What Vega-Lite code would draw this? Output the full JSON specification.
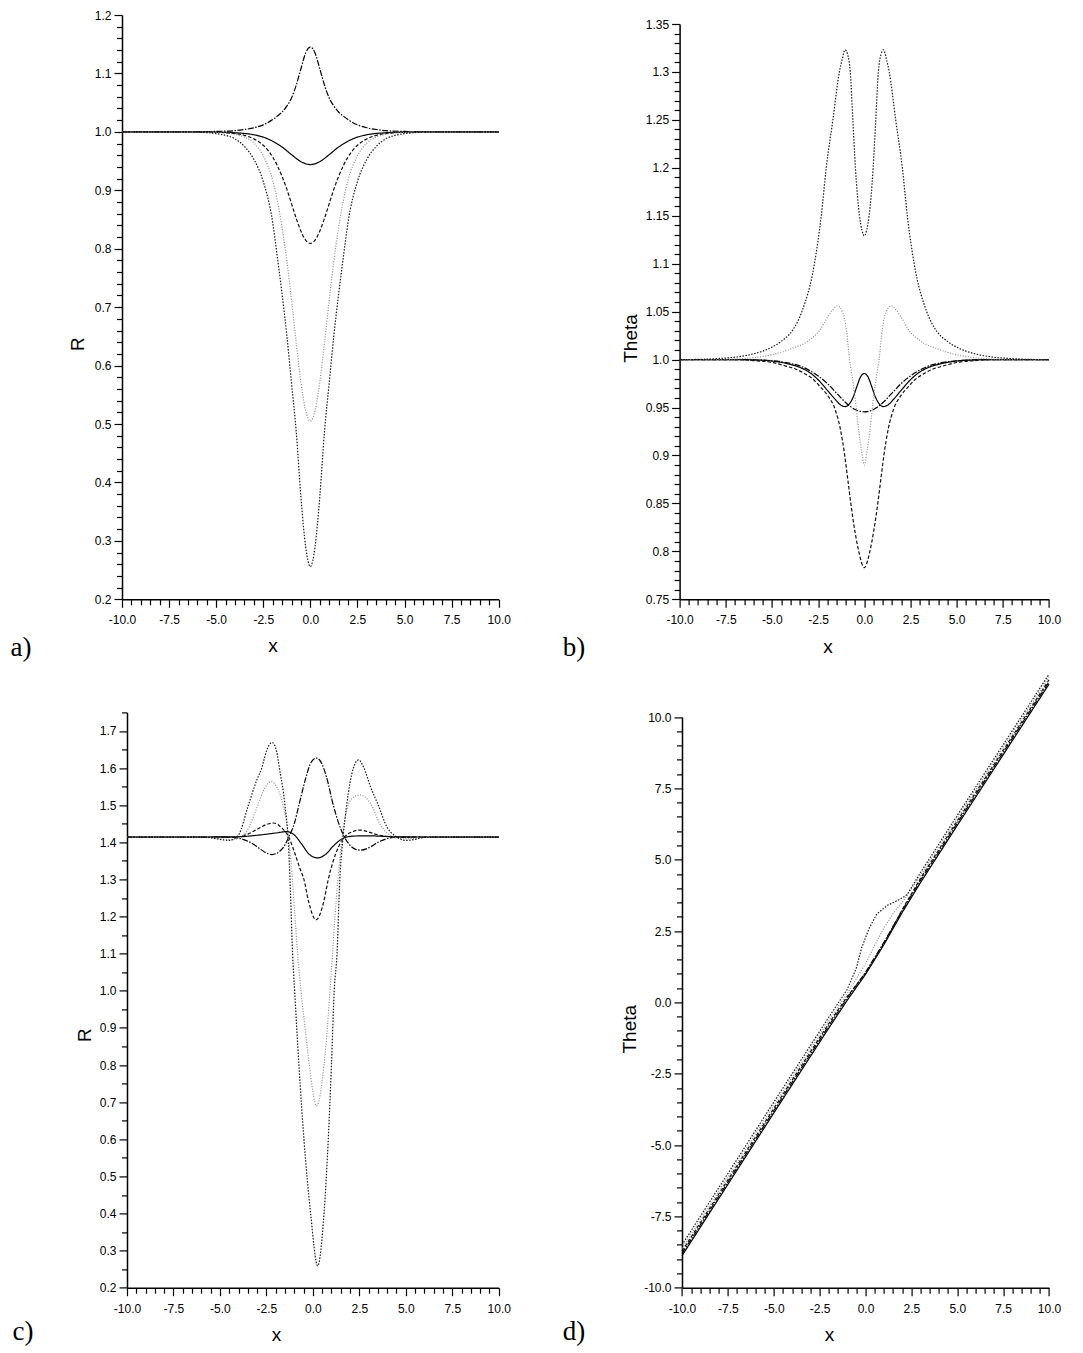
{
  "$schema": "https://vega.github.io/schema/vega-lite/v6.json",
  "background": "white",
  "padding": {"left": 10, "top": 9, "right": 5, "bottom": 5},
  "columns": 2,
  "bounds": "flush",
  "spacing": {"row": 112.4, "column": 180.6},
  "config": {
    "view": {"stroke": null},
    "axis": {
      "grid": false,
      "labelFont": "Liberation Sans",
      "labelFontSize": 12,
      "labelColor": "#000000",
      "labelFlush": false,
      "labelOverlap": false,
      "titleFont": "Liberation Sans",
      "titleFontSize": 19,
      "titleFontWeight": "normal",
      "titleColor": "#000000",
      "domainColor": "#000000",
      "domainWidth": 1.5,
      "tickColor": "#000000",
      "tickWidth": 1.2
    }
  },
  "datasets": {
    "a": [
      {"x": -10, "v": 1, "s": "s1"}, {"x": -7, "v": 1, "s": "s1"}, {"x": -6, "v": 0.9999, "s": "s1"}, {"x": -5, "v": 0.9996, "s": "s1"}, {"x": -4, "v": 0.9985, "s": "s1"}, {"x": -3, "v": 0.995, "s": "s1"}, {"x": -2.5, "v": 0.991, "s": "s1"}, {"x": -2, "v": 0.984, "s": "s1"}, {"x": -1.5, "v": 0.974, "s": "s1"}, {"x": -1, "v": 0.961, "s": "s1"}, {"x": -0.5, "v": 0.949, "s": "s1"}, {"x": 0, "v": 0.944, "s": "s1"},
      {"x": 0.5, "v": 0.949, "s": "s1"}, {"x": 1, "v": 0.961, "s": "s1"}, {"x": 1.5, "v": 0.974, "s": "s1"}, {"x": 2, "v": 0.984, "s": "s1"}, {"x": 2.5, "v": 0.991, "s": "s1"}, {"x": 3, "v": 0.995, "s": "s1"}, {"x": 4, "v": 0.9985, "s": "s1"}, {"x": 5, "v": 0.9996, "s": "s1"}, {"x": 6, "v": 0.9999, "s": "s1"}, {"x": 7, "v": 1, "s": "s1"}, {"x": 10, "v": 1, "s": "s1"},

      {"x": -10, "v": 1, "s": "s2"}, {"x": -8, "v": 1, "s": "s2"}, {"x": -6, "v": 1.0003, "s": "s2"}, {"x": -5, "v": 1.0008, "s": "s2"}, {"x": -4, "v": 1.002, "s": "s2"}, {"x": -3.5, "v": 1.004, "s": "s2"}, {"x": -3, "v": 1.007, "s": "s2"}, {"x": -2.5, "v": 1.012, "s": "s2"}, {"x": -2, "v": 1.021, "s": "s2"}, {"x": -1.75, "v": 1.027, "s": "s2"}, {"x": -1.5, "v": 1.034, "s": "s2"}, {"x": -1.25, "v": 1.044, "s": "s2"}, {"x": -1, "v": 1.058, "s": "s2"}, {"x": -0.75, "v": 1.08, "s": "s2"}, {"x": -0.5, "v": 1.108, "s": "s2"}, {"x": -0.25, "v": 1.135, "s": "s2"}, {"x": 0, "v": 1.145, "s": "s2"},
      {"x": 0.25, "v": 1.135, "s": "s2"}, {"x": 0.5, "v": 1.108, "s": "s2"}, {"x": 0.75, "v": 1.08, "s": "s2"}, {"x": 1, "v": 1.058, "s": "s2"}, {"x": 1.25, "v": 1.044, "s": "s2"}, {"x": 1.5, "v": 1.034, "s": "s2"}, {"x": 1.75, "v": 1.027, "s": "s2"}, {"x": 2, "v": 1.021, "s": "s2"}, {"x": 2.5, "v": 1.012, "s": "s2"}, {"x": 3, "v": 1.007, "s": "s2"}, {"x": 3.5, "v": 1.004, "s": "s2"}, {"x": 4, "v": 1.002, "s": "s2"}, {"x": 5, "v": 1.0008, "s": "s2"}, {"x": 6, "v": 1.0003, "s": "s2"}, {"x": 8, "v": 1, "s": "s2"}, {"x": 10, "v": 1, "s": "s2"},

      {"x": -10, "v": 1, "s": "s3"}, {"x": -7, "v": 1, "s": "s3"}, {"x": -6, "v": 0.9998, "s": "s3"}, {"x": -5, "v": 0.9992, "s": "s3"}, {"x": -4, "v": 0.997, "s": "s3"}, {"x": -3.5, "v": 0.994, "s": "s3"}, {"x": -3, "v": 0.988, "s": "s3"}, {"x": -2.5, "v": 0.977, "s": "s3"}, {"x": -2, "v": 0.957, "s": "s3"}, {"x": -1.75, "v": 0.942, "s": "s3"}, {"x": -1.5, "v": 0.9235, "s": "s3"}, {"x": -1.25, "v": 0.902, "s": "s3"}, {"x": -1, "v": 0.877, "s": "s3"}, {"x": -0.75, "v": 0.852, "s": "s3"}, {"x": -0.5, "v": 0.83, "s": "s3"}, {"x": -0.25, "v": 0.8146, "s": "s3"}, {"x": 0, "v": 0.809, "s": "s3"},
      {"x": 0.25, "v": 0.8146, "s": "s3"}, {"x": 0.5, "v": 0.83, "s": "s3"}, {"x": 0.75, "v": 0.852, "s": "s3"}, {"x": 1, "v": 0.877, "s": "s3"}, {"x": 1.25, "v": 0.902, "s": "s3"}, {"x": 1.5, "v": 0.9235, "s": "s3"}, {"x": 1.75, "v": 0.942, "s": "s3"}, {"x": 2, "v": 0.957, "s": "s3"}, {"x": 2.5, "v": 0.977, "s": "s3"}, {"x": 3, "v": 0.988, "s": "s3"}, {"x": 3.5, "v": 0.994, "s": "s3"}, {"x": 4, "v": 0.997, "s": "s3"}, {"x": 5, "v": 0.9992, "s": "s3"}, {"x": 6, "v": 0.9998, "s": "s3"}, {"x": 7, "v": 1, "s": "s3"}, {"x": 10, "v": 1, "s": "s3"},

      {"x": -10, "v": 1, "s": "s4"}, {"x": -7, "v": 1, "s": "s4"}, {"x": -6, "v": 0.9998, "s": "s4"}, {"x": -5, "v": 0.999, "s": "s4"}, {"x": -4, "v": 0.9958, "s": "s4"}, {"x": -3.5, "v": 0.991, "s": "s4"}, {"x": -3, "v": 0.981, "s": "s4"}, {"x": -2.5, "v": 0.959, "s": "s4"}, {"x": -2, "v": 0.917, "s": "s4"}, {"x": -1.75, "v": 0.882, "s": "s4"}, {"x": -1.5, "v": 0.836, "s": "s4"}, {"x": -1.25, "v": 0.78, "s": "s4"}, {"x": -1, "v": 0.712, "s": "s4"}, {"x": -0.75, "v": 0.639, "s": "s4"}, {"x": -0.5, "v": 0.5715, "s": "s4"}, {"x": -0.25, "v": 0.523, "s": "s4"}, {"x": 0, "v": 0.505, "s": "s4"},
      {"x": 0.25, "v": 0.523, "s": "s4"}, {"x": 0.5, "v": 0.5715, "s": "s4"}, {"x": 0.75, "v": 0.639, "s": "s4"}, {"x": 1, "v": 0.712, "s": "s4"}, {"x": 1.25, "v": 0.78, "s": "s4"}, {"x": 1.5, "v": 0.836, "s": "s4"}, {"x": 1.75, "v": 0.882, "s": "s4"}, {"x": 2, "v": 0.917, "s": "s4"}, {"x": 2.5, "v": 0.959, "s": "s4"}, {"x": 3, "v": 0.981, "s": "s4"}, {"x": 3.5, "v": 0.991, "s": "s4"}, {"x": 4, "v": 0.9958, "s": "s4"}, {"x": 5, "v": 0.999, "s": "s4"}, {"x": 6, "v": 0.9998, "s": "s4"}, {"x": 7, "v": 1, "s": "s4"}, {"x": 10, "v": 1, "s": "s4"},

      {"x": -10, "v": 1, "s": "s5"}, {"x": -7, "v": 1, "s": "s5"}, {"x": -6, "v": 0.9995, "s": "s5"}, {"x": -5, "v": 0.997, "s": "s5"}, {"x": -4.5, "v": 0.994, "s": "s5"}, {"x": -4, "v": 0.988, "s": "s5"}, {"x": -3.5, "v": 0.975, "s": "s5"}, {"x": -3, "v": 0.953, "s": "s5"}, {"x": -2.5, "v": 0.915, "s": "s5"}, {"x": -2, "v": 0.845, "s": "s5"}, {"x": -1.75, "v": 0.785, "s": "s5"}, {"x": -1.5, "v": 0.722, "s": "s5"}, {"x": -1.25, "v": 0.652, "s": "s5"}, {"x": -1, "v": 0.57, "s": "s5"}, {"x": -0.75, "v": 0.487, "s": "s5"}, {"x": -0.5, "v": 0.375, "s": "s5"}, {"x": -0.25, "v": 0.29, "s": "s5"}, {"x": 0, "v": 0.256, "s": "s5"},
      {"x": 0.25, "v": 0.29, "s": "s5"}, {"x": 0.5, "v": 0.375, "s": "s5"}, {"x": 0.75, "v": 0.487, "s": "s5"}, {"x": 1, "v": 0.57, "s": "s5"}, {"x": 1.25, "v": 0.652, "s": "s5"}, {"x": 1.5, "v": 0.722, "s": "s5"}, {"x": 1.75, "v": 0.785, "s": "s5"}, {"x": 2, "v": 0.845, "s": "s5"}, {"x": 2.5, "v": 0.915, "s": "s5"}, {"x": 3, "v": 0.953, "s": "s5"}, {"x": 3.5, "v": 0.975, "s": "s5"}, {"x": 4, "v": 0.988, "s": "s5"}, {"x": 4.5, "v": 0.994, "s": "s5"}, {"x": 5, "v": 0.997, "s": "s5"}, {"x": 6, "v": 0.9995, "s": "s5"}, {"x": 7, "v": 1, "s": "s5"}, {"x": 10, "v": 1, "s": "s5"}
    ],
    "b": [
      {"x": -10, "v": 1, "s": "s1"}, {"x": -7, "v": 1, "s": "s1"}, {"x": -6, "v": 0.9997, "s": "s1"}, {"x": -5, "v": 0.9985, "s": "s1"}, {"x": -4, "v": 0.995, "s": "s1"}, {"x": -3.5, "v": 0.992, "s": "s1"}, {"x": -3, "v": 0.987, "s": "s1"}, {"x": -2.5, "v": 0.979, "s": "s1"}, {"x": -2, "v": 0.968, "s": "s1"}, {"x": -1.6, "v": 0.959, "s": "s1"}, {"x": -1.3, "v": 0.953, "s": "s1"}, {"x": -1.03, "v": 0.951, "s": "s1"}, {"x": -0.8, "v": 0.954, "s": "s1"}, {"x": -0.6, "v": 0.961, "s": "s1"}, {"x": -0.4, "v": 0.972, "s": "s1"}, {"x": -0.2, "v": 0.982, "s": "s1"}, {"x": 0, "v": 0.9855, "s": "s1"},
      {"x": 0.2, "v": 0.982, "s": "s1"}, {"x": 0.4, "v": 0.972, "s": "s1"}, {"x": 0.6, "v": 0.961, "s": "s1"}, {"x": 0.8, "v": 0.954, "s": "s1"}, {"x": 1.03, "v": 0.951, "s": "s1"}, {"x": 1.3, "v": 0.953, "s": "s1"}, {"x": 1.6, "v": 0.959, "s": "s1"}, {"x": 2, "v": 0.968, "s": "s1"}, {"x": 2.5, "v": 0.979, "s": "s1"}, {"x": 3, "v": 0.987, "s": "s1"}, {"x": 3.5, "v": 0.992, "s": "s1"}, {"x": 4, "v": 0.995, "s": "s1"}, {"x": 5, "v": 0.9985, "s": "s1"}, {"x": 6, "v": 0.9997, "s": "s1"}, {"x": 7, "v": 1, "s": "s1"}, {"x": 10, "v": 1, "s": "s1"},

      {"x": -10, "v": 1, "s": "s2"}, {"x": -7, "v": 1, "s": "s2"}, {"x": -6, "v": 0.9997, "s": "s2"}, {"x": -5, "v": 0.9988, "s": "s2"}, {"x": -4, "v": 0.996, "s": "s2"}, {"x": -3.5, "v": 0.9935, "s": "s2"}, {"x": -3, "v": 0.989, "s": "s2"}, {"x": -2.5, "v": 0.983, "s": "s2"}, {"x": -2, "v": 0.975, "s": "s2"}, {"x": -1.5, "v": 0.965, "s": "s2"}, {"x": -1, "v": 0.955, "s": "s2"}, {"x": -0.5, "v": 0.948, "s": "s2"}, {"x": 0, "v": 0.9455, "s": "s2"},
      {"x": 0.5, "v": 0.948, "s": "s2"}, {"x": 1, "v": 0.955, "s": "s2"}, {"x": 1.5, "v": 0.965, "s": "s2"}, {"x": 2, "v": 0.975, "s": "s2"}, {"x": 2.5, "v": 0.983, "s": "s2"}, {"x": 3, "v": 0.989, "s": "s2"}, {"x": 3.5, "v": 0.9935, "s": "s2"}, {"x": 4, "v": 0.996, "s": "s2"}, {"x": 5, "v": 0.9988, "s": "s2"}, {"x": 6, "v": 0.9997, "s": "s2"}, {"x": 7, "v": 1, "s": "s2"}, {"x": 10, "v": 1, "s": "s2"},

      {"x": -10, "v": 1, "s": "s3"}, {"x": -7, "v": 1, "s": "s3"}, {"x": -6, "v": 0.999, "s": "s3"}, {"x": -5, "v": 0.997, "s": "s3"}, {"x": -4.2, "v": 0.993, "s": "s3"}, {"x": -3.7, "v": 0.99, "s": "s3"}, {"x": -3.2, "v": 0.985, "s": "s3"}, {"x": -2.74, "v": 0.979, "s": "s3"}, {"x": -2.4, "v": 0.972, "s": "s3"}, {"x": -2, "v": 0.963, "s": "s3"}, {"x": -1.58, "v": 0.948, "s": "s3"}, {"x": -1.3, "v": 0.928, "s": "s3"}, {"x": -1.06, "v": 0.9, "s": "s3"}, {"x": -0.9, "v": 0.876, "s": "s3"}, {"x": -0.73, "v": 0.85, "s": "s3"}, {"x": -0.5, "v": 0.82, "s": "s3"}, {"x": -0.3, "v": 0.8, "s": "s3"}, {"x": 0, "v": 0.783, "s": "s3"},
      {"x": 0.3, "v": 0.8, "s": "s3"}, {"x": 0.5, "v": 0.82, "s": "s3"}, {"x": 0.73, "v": 0.85, "s": "s3"}, {"x": 0.9, "v": 0.876, "s": "s3"}, {"x": 1.06, "v": 0.9, "s": "s3"}, {"x": 1.3, "v": 0.928, "s": "s3"}, {"x": 1.58, "v": 0.948, "s": "s3"}, {"x": 2, "v": 0.963, "s": "s3"}, {"x": 2.4, "v": 0.972, "s": "s3"}, {"x": 2.74, "v": 0.979, "s": "s3"}, {"x": 3.2, "v": 0.985, "s": "s3"}, {"x": 3.7, "v": 0.99, "s": "s3"}, {"x": 4.2, "v": 0.993, "s": "s3"}, {"x": 5, "v": 0.997, "s": "s3"}, {"x": 6, "v": 0.999, "s": "s3"}, {"x": 7, "v": 1, "s": "s3"}, {"x": 10, "v": 1, "s": "s3"},

      {"x": -10, "v": 1, "s": "s4"}, {"x": -8, "v": 1, "s": "s4"}, {"x": -7, "v": 1.0005, "s": "s4"}, {"x": -6, "v": 1.002, "s": "s4"}, {"x": -5, "v": 1.005, "s": "s4"}, {"x": -4, "v": 1.011, "s": "s4"}, {"x": -3, "v": 1.02, "s": "s4"}, {"x": -2.4, "v": 1.031, "s": "s4"}, {"x": -2, "v": 1.044, "s": "s4"}, {"x": -1.75, "v": 1.051, "s": "s4"}, {"x": -1.45, "v": 1.056, "s": "s4"}, {"x": -1.15, "v": 1.048, "s": "s4"}, {"x": -0.97, "v": 1.031, "s": "s4"}, {"x": -0.8, "v": 1.0, "s": "s4"}, {"x": -0.6, "v": 0.975, "s": "s4"}, {"x": -0.45, "v": 0.952, "s": "s4"}, {"x": -0.3, "v": 0.925, "s": "s4"}, {"x": -0.15, "v": 0.905, "s": "s4"}, {"x": 0, "v": 0.89, "s": "s4"},
      {"x": 0.15, "v": 0.905, "s": "s4"}, {"x": 0.3, "v": 0.925, "s": "s4"}, {"x": 0.45, "v": 0.952, "s": "s4"}, {"x": 0.6, "v": 0.975, "s": "s4"}, {"x": 0.8, "v": 1.0, "s": "s4"}, {"x": 0.97, "v": 1.031, "s": "s4"}, {"x": 1.15, "v": 1.048, "s": "s4"}, {"x": 1.45, "v": 1.056, "s": "s4"}, {"x": 1.75, "v": 1.051, "s": "s4"}, {"x": 2, "v": 1.044, "s": "s4"}, {"x": 2.4, "v": 1.031, "s": "s4"}, {"x": 3, "v": 1.02, "s": "s4"}, {"x": 4, "v": 1.011, "s": "s4"}, {"x": 5, "v": 1.005, "s": "s4"}, {"x": 6, "v": 1.002, "s": "s4"}, {"x": 7, "v": 1.0005, "s": "s4"}, {"x": 8, "v": 1, "s": "s4"}, {"x": 10, "v": 1, "s": "s4"},

      {"x": -10, "v": 1, "s": "s5"}, {"x": -9, "v": 1.0002, "s": "s5"}, {"x": -8, "v": 1.001, "s": "s5"}, {"x": -7, "v": 1.0025, "s": "s5"}, {"x": -6, "v": 1.006, "s": "s5"}, {"x": -5.1, "v": 1.012, "s": "s5"}, {"x": -4.5, "v": 1.019, "s": "s5"}, {"x": -3.87, "v": 1.031, "s": "s5"}, {"x": -3.38, "v": 1.05, "s": "s5"}, {"x": -2.7, "v": 1.1, "s": "s5"}, {"x": -2.33, "v": 1.15, "s": "s5"}, {"x": -2.06, "v": 1.2, "s": "s5"}, {"x": -1.7, "v": 1.25, "s": "s5"}, {"x": -1.35, "v": 1.3, "s": "s5"}, {"x": -1.2, "v": 1.313, "s": "s5"}, {"x": -1.04, "v": 1.323, "s": "s5"}, {"x": -0.9, "v": 1.318, "s": "s5"}, {"x": -0.76, "v": 1.3, "s": "s5"}, {"x": -0.62, "v": 1.25, "s": "s5"}, {"x": -0.48, "v": 1.2, "s": "s5"}, {"x": -0.26, "v": 1.15, "s": "s5"}, {"x": -0.13, "v": 1.135, "s": "s5"}, {"x": 0, "v": 1.129, "s": "s5"},
      {"x": 0.13, "v": 1.135, "s": "s5"}, {"x": 0.26, "v": 1.15, "s": "s5"}, {"x": 0.48, "v": 1.2, "s": "s5"}, {"x": 0.62, "v": 1.25, "s": "s5"}, {"x": 0.76, "v": 1.3, "s": "s5"}, {"x": 0.9, "v": 1.318, "s": "s5"}, {"x": 1.04, "v": 1.323, "s": "s5"}, {"x": 1.2, "v": 1.313, "s": "s5"}, {"x": 1.35, "v": 1.3, "s": "s5"}, {"x": 1.7, "v": 1.25, "s": "s5"}, {"x": 2.06, "v": 1.2, "s": "s5"}, {"x": 2.33, "v": 1.15, "s": "s5"}, {"x": 2.7, "v": 1.1, "s": "s5"}, {"x": 3.38, "v": 1.05, "s": "s5"}, {"x": 3.87, "v": 1.031, "s": "s5"}, {"x": 4.5, "v": 1.019, "s": "s5"}, {"x": 5.1, "v": 1.012, "s": "s5"}, {"x": 6, "v": 1.006, "s": "s5"}, {"x": 7, "v": 1.0025, "s": "s5"}, {"x": 8, "v": 1.001, "s": "s5"}, {"x": 9, "v": 1.0002, "s": "s5"}, {"x": 10, "v": 1, "s": "s5"}
    ],
    "c": [
      {"x": -10, "v": 1.4142, "s": "s1"}, {"x": -6, "v": 1.4142, "s": "s1"}, {"x": -5, "v": 1.4145, "s": "s1"}, {"x": -4, "v": 1.415, "s": "s1"}, {"x": -3, "v": 1.419, "s": "s1"}, {"x": -2, "v": 1.425, "s": "s1"}, {"x": -1.4, "v": 1.4288, "s": "s1"}, {"x": -1, "v": 1.42, "s": "s1"}, {"x": -0.6, "v": 1.395, "s": "s1"}, {"x": -0.2, "v": 1.368, "s": "s1"}, {"x": 0.25, "v": 1.358, "s": "s1"}, {"x": 0.7, "v": 1.368, "s": "s1"}, {"x": 1.1, "v": 1.39, "s": "s1"}, {"x": 1.5, "v": 1.407, "s": "s1"}, {"x": 1.8, "v": 1.414, "s": "s1"}, {"x": 2.3, "v": 1.417, "s": "s1"}, {"x": 3, "v": 1.4175, "s": "s1"}, {"x": 4, "v": 1.4155, "s": "s1"}, {"x": 5, "v": 1.4145, "s": "s1"}, {"x": 6, "v": 1.4142, "s": "s1"}, {"x": 10, "v": 1.4142, "s": "s1"},

      {"x": -10, "v": 1.4142, "s": "s2"}, {"x": -5, "v": 1.4142, "s": "s2"}, {"x": -4.5, "v": 1.414, "s": "s2"}, {"x": -4, "v": 1.411, "s": "s2"}, {"x": -3.5, "v": 1.403, "s": "s2"}, {"x": -3, "v": 1.388, "s": "s2"}, {"x": -2.6, "v": 1.374, "s": "s2"}, {"x": -2.2, "v": 1.367, "s": "s2"}, {"x": -1.8, "v": 1.375, "s": "s2"}, {"x": -1.5, "v": 1.393, "s": "s2"}, {"x": -1.3, "v": 1.414, "s": "s2"}, {"x": -1, "v": 1.45, "s": "s2"}, {"x": -0.75, "v": 1.5, "s": "s2"}, {"x": -0.37, "v": 1.575, "s": "s2"}, {"x": -0.1, "v": 1.615, "s": "s2"}, {"x": 0.2, "v": 1.627, "s": "s2"}, {"x": 0.5, "v": 1.61, "s": "s2"}, {"x": 0.74, "v": 1.575, "s": "s2"}, {"x": 1.1, "v": 1.5, "s": "s2"}, {"x": 1.4, "v": 1.45, "s": "s2"}, {"x": 1.7, "v": 1.414, "s": "s2"}, {"x": 2, "v": 1.392, "s": "s2"}, {"x": 2.3, "v": 1.381, "s": "s2"}, {"x": 2.6, "v": 1.379, "s": "s2"}, {"x": 3, "v": 1.385, "s": "s2"}, {"x": 3.5, "v": 1.4, "s": "s2"}, {"x": 4, "v": 1.41, "s": "s2"}, {"x": 4.5, "v": 1.4142, "s": "s2"}, {"x": 10, "v": 1.4142, "s": "s2"},

      {"x": -10, "v": 1.4142, "s": "s3"}, {"x": -5, "v": 1.4142, "s": "s3"}, {"x": -4.5, "v": 1.413, "s": "s3"}, {"x": -4, "v": 1.415, "s": "s3"}, {"x": -3.5, "v": 1.422, "s": "s3"}, {"x": -3, "v": 1.435, "s": "s3"}, {"x": -2.5, "v": 1.448, "s": "s3"}, {"x": -2.1, "v": 1.452, "s": "s3"}, {"x": -1.7, "v": 1.44, "s": "s3"}, {"x": -1.3, "v": 1.414, "s": "s3"}, {"x": -1, "v": 1.375, "s": "s3"}, {"x": -0.7, "v": 1.33, "s": "s3"}, {"x": -0.48, "v": 1.3, "s": "s3"}, {"x": -0.24, "v": 1.243, "s": "s3"}, {"x": 0.17, "v": 1.191, "s": "s3"}, {"x": 0.6, "v": 1.243, "s": "s3"}, {"x": 0.83, "v": 1.3, "s": "s3"}, {"x": 1.1, "v": 1.35, "s": "s3"}, {"x": 1.4, "v": 1.39, "s": "s3"}, {"x": 1.7, "v": 1.414, "s": "s3"}, {"x": 2.1, "v": 1.428, "s": "s3"}, {"x": 2.55, "v": 1.433, "s": "s3"}, {"x": 3, "v": 1.428, "s": "s3"}, {"x": 3.5, "v": 1.42, "s": "s3"}, {"x": 4, "v": 1.416, "s": "s3"}, {"x": 4.5, "v": 1.414, "s": "s3"}, {"x": 5, "v": 1.4135, "s": "s3"}, {"x": 6, "v": 1.4142, "s": "s3"}, {"x": 10, "v": 1.4142, "s": "s3"},

      {"x": -10, "v": 1.4142, "s": "s4"}, {"x": -6, "v": 1.4142, "s": "s4"}, {"x": -5.5, "v": 1.413, "s": "s4"}, {"x": -5, "v": 1.41, "s": "s4"}, {"x": -4.5, "v": 1.407, "s": "s4"}, {"x": -4, "v": 1.41, "s": "s4"}, {"x": -3.5, "v": 1.435, "s": "s4"}, {"x": -3, "v": 1.495, "s": "s4"}, {"x": -2.6, "v": 1.545, "s": "s4"}, {"x": -2.25, "v": 1.5635, "s": "s4"}, {"x": -1.9, "v": 1.545, "s": "s4"}, {"x": -1.6, "v": 1.5, "s": "s4"}, {"x": -1.28, "v": 1.4, "s": "s4"}, {"x": -1.1, "v": 1.3, "s": "s4"}, {"x": -0.96, "v": 1.2, "s": "s4"}, {"x": -0.82, "v": 1.1, "s": "s4"}, {"x": -0.64, "v": 1.0, "s": "s4"}, {"x": -0.42, "v": 0.9, "s": "s4"}, {"x": -0.19, "v": 0.8, "s": "s4"}, {"x": 0.2, "v": 0.69, "s": "s4"}, {"x": 0.6, "v": 0.8, "s": "s4"}, {"x": 0.78, "v": 0.9, "s": "s4"}, {"x": 0.92, "v": 1.0, "s": "s4"}, {"x": 1.06, "v": 1.1, "s": "s4"}, {"x": 1.19, "v": 1.2, "s": "s4"}, {"x": 1.35, "v": 1.3, "s": "s4"}, {"x": 1.55, "v": 1.4, "s": "s4"}, {"x": 1.9, "v": 1.5, "s": "s4"}, {"x": 2.2, "v": 1.522, "s": "s4"}, {"x": 2.55, "v": 1.5276, "s": "s4"}, {"x": 2.85, "v": 1.52, "s": "s4"}, {"x": 3.16, "v": 1.5, "s": "s4"}, {"x": 3.6, "v": 1.45, "s": "s4"}, {"x": 4, "v": 1.425, "s": "s4"}, {"x": 4.5, "v": 1.412, "s": "s4"}, {"x": 5, "v": 1.409, "s": "s4"}, {"x": 5.5, "v": 1.411, "s": "s4"}, {"x": 6, "v": 1.4135, "s": "s4"}, {"x": 7, "v": 1.4142, "s": "s4"}, {"x": 10, "v": 1.4142, "s": "s4"},

      {"x": -10, "v": 1.4142, "s": "s5"}, {"x": -6, "v": 1.4142, "s": "s5"}, {"x": -5.5, "v": 1.412, "s": "s5"}, {"x": -5, "v": 1.408, "s": "s5"}, {"x": -4.5, "v": 1.405, "s": "s5"}, {"x": -4, "v": 1.42, "s": "s5"}, {"x": -3.47, "v": 1.5, "s": "s5"}, {"x": -3, "v": 1.57, "s": "s5"}, {"x": -2.75, "v": 1.6, "s": "s5"}, {"x": -2.5, "v": 1.645, "s": "s5"}, {"x": -2.2, "v": 1.669, "s": "s5"}, {"x": -1.95, "v": 1.645, "s": "s5"}, {"x": -1.8, "v": 1.6, "s": "s5"}, {"x": -1.5, "v": 1.5, "s": "s5"}, {"x": -1.32, "v": 1.4, "s": "s5"}, {"x": -1.23, "v": 1.3, "s": "s5"}, {"x": -1.09, "v": 1.1, "s": "s5"}, {"x": -0.98, "v": 1.0, "s": "s5"}, {"x": -0.75, "v": 0.8, "s": "s5"}, {"x": -0.48, "v": 0.6, "s": "s5"}, {"x": -0.12, "v": 0.4, "s": "s5"}, {"x": 0.26, "v": 0.259, "s": "s5"}, {"x": 0.6, "v": 0.4, "s": "s5"}, {"x": 0.83, "v": 0.6, "s": "s5"}, {"x": 1, "v": 0.8, "s": "s5"}, {"x": 1.15, "v": 1.0, "s": "s5"}, {"x": 1.3, "v": 1.1, "s": "s5"}, {"x": 1.45, "v": 1.3, "s": "s5"}, {"x": 1.6, "v": 1.4, "s": "s5"}, {"x": 1.82, "v": 1.5, "s": "s5"}, {"x": 2.18, "v": 1.6, "s": "s5"}, {"x": 2.46, "v": 1.622, "s": "s5"}, {"x": 2.75, "v": 1.6, "s": "s5"}, {"x": 3.1, "v": 1.55, "s": "s5"}, {"x": 3.52, "v": 1.5, "s": "s5"}, {"x": 4, "v": 1.44, "s": "s5"}, {"x": 4.5, "v": 1.415, "s": "s5"}, {"x": 5, "v": 1.405, "s": "s5"}, {"x": 5.5, "v": 1.408, "s": "s5"}, {"x": 6, "v": 1.413, "s": "s5"}, {"x": 7, "v": 1.4142, "s": "s5"}, {"x": 10, "v": 1.4142, "s": "s5"}
    ],
    "d": [
      {"x": -10, "v": -8.88, "s": "s1"}, {"x": -5, "v": -3.88, "s": "s1"}, {"x": -2, "v": -0.9, "s": "s1"}, {"x": -1, "v": 0.07, "s": "s1"}, {"x": 0, "v": 0.98, "s": "s1"}, {"x": 1, "v": 2.02, "s": "s1"}, {"x": 2, "v": 3.15, "s": "s1"}, {"x": 3, "v": 4.2, "s": "s1"}, {"x": 5, "v": 6.2, "s": "s1"}, {"x": 10, "v": 11.15, "s": "s1"},
      {"x": -10, "v": -8.8, "s": "s2"}, {"x": -5, "v": -3.8, "s": "s2"}, {"x": -2, "v": -0.82, "s": "s2"}, {"x": -1, "v": 0.15, "s": "s2"}, {"x": 0, "v": 1.05, "s": "s2"}, {"x": 1, "v": 2.1, "s": "s2"}, {"x": 2, "v": 3.22, "s": "s2"}, {"x": 3, "v": 4.28, "s": "s2"}, {"x": 5, "v": 6.28, "s": "s2"}, {"x": 10, "v": 11.23, "s": "s2"},
      {"x": -10, "v": -8.72, "s": "s3"}, {"x": -5, "v": -3.72, "s": "s3"}, {"x": -2, "v": -0.74, "s": "s3"}, {"x": -1, "v": 0.2, "s": "s3"}, {"x": 0, "v": 1.02, "s": "s3"}, {"x": 1, "v": 2.05, "s": "s3"}, {"x": 2, "v": 3.25, "s": "s3"}, {"x": 3, "v": 4.35, "s": "s3"}, {"x": 5, "v": 6.36, "s": "s3"}, {"x": 10, "v": 11.3, "s": "s3"},
      {"x": -10, "v": -8.62, "s": "s4"}, {"x": -5, "v": -3.62, "s": "s4"}, {"x": -2, "v": -0.64, "s": "s4"}, {"x": -1, "v": 0.3, "s": "s4"}, {"x": 0, "v": 1.35, "s": "s4"}, {"x": 0.5, "v": 2.0, "s": "s4"}, {"x": 1, "v": 2.6, "s": "s4"}, {"x": 1.5, "v": 3.1, "s": "s4"}, {"x": 2, "v": 3.5, "s": "s4"}, {"x": 3, "v": 4.45, "s": "s4"}, {"x": 5, "v": 6.45, "s": "s4"}, {"x": 10, "v": 11.4, "s": "s4"},
      {"x": -10, "v": -8.5, "s": "s5"}, {"x": -5, "v": -3.5, "s": "s5"}, {"x": -2, "v": -0.52, "s": "s5"}, {"x": -1, "v": 0.45, "s": "s5"}, {"x": -0.5, "v": 1.2, "s": "s5"}, {"x": -0.2, "v": 1.93, "s": "s5"}, {"x": 0.2, "v": 2.6, "s": "s5"}, {"x": 0.62, "v": 3.1, "s": "s5"}, {"x": 1.2, "v": 3.4, "s": "s5"}, {"x": 1.9, "v": 3.62, "s": "s5"}, {"x": 2.26, "v": 3.77, "s": "s5"}, {"x": 3, "v": 4.55, "s": "s5"}, {"x": 5, "v": 6.55, "s": "s5"}, {"x": 10, "v": 11.5, "s": "s5"}
    ]
  },
  "concat": [
    {
      "width": 376.7,
      "height": 584.3,
      "layer": [
        {
          "data": {"name": "a"},
          "mark": {"type": "line", "interpolate": "monotone", "strokeWidth": 1.2},
          "encoding": {
            "x": {"field": "x", "type": "quantitative", "scale": {"domain": [-10, 10], "nice": false, "zero": false},
              "axis": {"values": [-10,-9.5,-9,-8.5,-8,-7.5,-7,-6.5,-6,-5.5,-5,-4.5,-4,-3.5,-3,-2.5,-2,-1.5,-1,-0.5,0,0.5,1,1.5,2,2.5,3,3.5,4,4.5,5,5.5,6,6.5,7,7.5,8,8.5,9,9.5,10],
                "labelExpr": "abs(datum.value % 2.5) < 1e-6 ? replace(format(datum.value, '.1f'), '\u2212', '-') : ''",
                "tickSize": {"condition": {"test": "abs(datum.value % 2.5) < 1e-6", "value": 8}, "value": 5.5},
                "labelPadding": 7.5,
                "title": "x", "titleX": 150.5, "titleY": 52, "titleAlign": "center", "titleBaseline": "alphabetic", "titleAngle": 0}},
            "y": {"field": "v", "type": "quantitative", "scale": {"domain": [0.2, 1.2], "nice": false, "zero": false},
              "axis": {"values": [0.2,0.22,0.24,0.26,0.28,0.3,0.32,0.34,0.36,0.38,0.4,0.42,0.44,0.46,0.48,0.5,0.52,0.54,0.56,0.58,0.6,0.62,0.64,0.66,0.68,0.7,0.72,0.74,0.76,0.78,0.8,0.82,0.84,0.86,0.88,0.9,0.92,0.94,0.96,0.98,1,1.02,1.04,1.06,1.08,1.1,1.12,1.14,1.16,1.18,1.2],
                "labelExpr": "abs(datum.value * 10 - round(datum.value * 10)) < 1e-6 ? format(datum.value, '.1f') : ''",
                "tickSize": {"condition": {"test": "abs(datum.value * 10 - round(datum.value * 10)) < 1e-6", "value": 8}, "value": 5.5},
                "labelPadding": 3,
                "title": "R", "titleX": -45, "titleY": 328.7, "titleAngle": 270, "titleAlign": "center", "titleBaseline": "middle"}},
            "color": {"field": "s", "type": "nominal", "legend": null, "scale": {"domain": ["s1","s2","s3","s4","s5"], "range": ["#000000","#000000","#111111","#8c8c8c","#1a1a1a"]}},
            "strokeDash": {"field": "s", "type": "nominal", "legend": null, "scale": {"domain": ["s1","s2","s3","s4","s5"], "range": [[1,0],[6,1.5,1.5,1.5],[3.5,2],[1,1.6],[1.5,1.5]]}}
          }
        },
        {
          "data": {"values": [{"x": -10}]},
          "mark": {"type": "rule", "opacity": 0},
          "encoding": {
            "x": {"field": "x", "type": "quantitative",
              "axis": {"orient": "top", "domain": false, "ticks": false, "labels": false, "title": "a)", "titleFont": "Liberation Serif", "titleFontSize": 27, "titleX": -112, "titleY": 640, "titleAlign": "left", "titleBaseline": "alphabetic", "titleAngle": 0}}
          }
        }
      ],
      "resolve": {"axis": {"x": "independent"}}
    },
    {
      "width": 369.4,
      "height": 584.3,
      "layer": [
        {
          "data": {"name": "b"},
          "mark": {"type": "line", "interpolate": "monotone", "strokeWidth": 1.2},
          "encoding": {
            "x": {"field": "x", "type": "quantitative", "scale": {"domain": [-10, 10], "nice": false, "zero": false},
              "axis": {"values": [-10,-9.5,-9,-8.5,-8,-7.5,-7,-6.5,-6,-5.5,-5,-4.5,-4,-3.5,-3,-2.5,-2,-1.5,-1,-0.5,0,0.5,1,1.5,2,2.5,3,3.5,4,4.5,5,5.5,6,6.5,7,7.5,8,8.5,9,9.5,10],
                "labelExpr": "abs(datum.value % 2.5) < 1e-6 ? replace(format(datum.value, '.1f'), '\u2212', '-') : ''",
                "tickSize": {"condition": {"test": "abs(datum.value % 2.5) < 1e-6", "value": 8}, "value": 5.5},
                "labelPadding": 7.5,
                "title": "x", "titleX": 148, "titleY": 52.7, "titleAlign": "center", "titleBaseline": "alphabetic", "titleAngle": 0}},
            "y": {"field": "v", "type": "quantitative", "scale": {"domain": [0.75, 1.35], "range": [584.3, 9], "nice": false, "zero": false},
              "axis": {"values": [0.75,0.76,0.77,0.78,0.79,0.8,0.81,0.82,0.83,0.84,0.85,0.86,0.87,0.88,0.89,0.9,0.91,0.92,0.93,0.94,0.95,0.96,0.97,0.98,0.99,1,1.01,1.02,1.03,1.04,1.05,1.06,1.07,1.08,1.09,1.1,1.11,1.12,1.13,1.14,1.15,1.16,1.17,1.18,1.19,1.2,1.21,1.22,1.23,1.24,1.25,1.26,1.27,1.28,1.29,1.3,1.31,1.32,1.33,1.34,1.35],
                "labelExpr": "abs(datum.value * 20 - round(datum.value * 20)) < 1e-6 ? (datum.value == 1 ? '1.0' : format(datum.value, '.2~f')) : ''",
                "tickSize": {"condition": {"test": "abs(datum.value * 20 - round(datum.value * 20)) < 1e-6", "value": 8}, "value": 5.5},
                "labelPadding": 3,
                "title": "Theta", "titleX": -49.3, "titleY": 323, "titleAngle": 270, "titleAlign": "center", "titleBaseline": "middle"}},
            "color": {"field": "s", "type": "nominal", "legend": null, "scale": {"domain": ["s1","s2","s3","s4","s5"], "range": ["#000000","#000000","#111111","#8c8c8c","#1a1a1a"]}},
            "strokeDash": {"field": "s", "type": "nominal", "legend": null, "scale": {"domain": ["s1","s2","s3","s4","s5"], "range": [[1,0],[6,1.5,1.5,1.5],[3.5,2],[1,1.6],[1.5,1.5]]}}
          }
        },
        {
          "data": {"values": [{"x": -10}]},
          "mark": {"type": "rule", "opacity": 0},
          "encoding": {
            "x": {"field": "x", "type": "quantitative",
              "axis": {"orient": "top", "domain": false, "ticks": false, "labels": false, "title": "b)", "titleFont": "Liberation Serif", "titleFontSize": 27, "titleX": -117.3, "titleY": 640, "titleAlign": "left", "titleBaseline": "alphabetic", "titleAngle": 0}}
          }
        }
      ],
      "resolve": {"axis": {"x": "independent"}}
    },
    {
      "width": 376.7,
      "height": 575.3,
      "layer": [
        {
          "data": {"name": "c"},
          "mark": {"type": "line", "interpolate": "monotone", "strokeWidth": 1.2},
          "encoding": {
            "x": {"field": "x", "type": "quantitative", "scale": {"domain": [-10, 10], "range": [5, 376.7], "nice": false, "zero": false},
              "axis": {"values": [-10,-9.5,-9,-8.5,-8,-7.5,-7,-6.5,-6,-5.5,-5,-4.5,-4,-3.5,-3,-2.5,-2,-1.5,-1,-0.5,0,0.5,1,1.5,2,2.5,3,3.5,4,4.5,5,5.5,6,6.5,7,7.5,8,8.5,9,9.5,10],
                "labelExpr": "abs(datum.value % 2.5) < 1e-6 ? replace(format(datum.value, '.1f'), '\u2212', '-') : ''",
                "tickSize": {"condition": {"test": "abs(datum.value % 2.5) < 1e-6", "value": 8}, "value": 5.5},
                "labelPadding": 7.5,
                "title": "x", "titleX": 154, "titleY": 53, "titleAlign": "center", "titleBaseline": "alphabetic", "titleAngle": 0}},
            "y": {"field": "v", "type": "quantitative", "scale": {"domain": [0.2, 1.75], "nice": false, "zero": false},
              "axis": {"offset": -5, "values": [0.2,0.25,0.3,0.35,0.4,0.45,0.5,0.55,0.6,0.65,0.7,0.75,0.8,0.85,0.9,0.95,1,1.05,1.1,1.15,1.2,1.25,1.3,1.35,1.4,1.45,1.5,1.55,1.6,1.65,1.7,1.75],
                "labelExpr": "abs(datum.value * 10 - round(datum.value * 10)) < 1e-6 ? format(datum.value, '.1f') : ''",
                "tickSize": {"condition": {"test": "abs(datum.value * 10 - round(datum.value * 10)) < 1e-6", "value": 8}, "value": 5.5},
                "labelPadding": 3,
                "title": "R", "titleX": -43, "titleY": 322.3, "titleAngle": 270, "titleAlign": "center", "titleBaseline": "middle"}},
            "color": {"field": "s", "type": "nominal", "legend": null, "scale": {"domain": ["s1","s2","s3","s4","s5"], "range": ["#000000","#000000","#111111","#8c8c8c","#1a1a1a"]}},
            "strokeDash": {"field": "s", "type": "nominal", "legend": null, "scale": {"domain": ["s1","s2","s3","s4","s5"], "range": [[1,0],[6,1.5,1.5,1.5],[3.5,2],[1,1.6],[1.5,1.5]]}}
          }
        },
        {
          "data": {"values": [{"x": -10}]},
          "mark": {"type": "rule", "opacity": 0},
          "encoding": {
            "x": {"field": "x", "type": "quantitative",
              "axis": {"orient": "top", "domain": false, "ticks": false, "labels": false, "title": "c)", "titleFont": "Liberation Serif", "titleFontSize": 27, "titleX": -110, "titleY": 626.6, "titleAlign": "left", "titleBaseline": "alphabetic", "titleAngle": 0}}
          }
        }
      ],
      "resolve": {"axis": {"x": "independent"}}
    },
    {
      "width": 369.4,
      "height": 575.3,
      "layer": [
        {
          "data": {"name": "d"},
          "mark": {"type": "line", "strokeWidth": 1.2},
          "encoding": {
            "x": {"field": "x", "type": "quantitative", "scale": {"domain": [-10, 10], "range": [2.4, 369.4], "nice": false, "zero": false},
              "axis": {"values": [-10,-9.5,-9,-8.5,-8,-7.5,-7,-6.5,-6,-5.5,-5,-4.5,-4,-3.5,-3,-2.5,-2,-1.5,-1,-0.5,0,0.5,1,1.5,2,2.5,3,3.5,4,4.5,5,5.5,6,6.5,7,7.5,8,8.5,9,9.5,10],
                "labelExpr": "abs(datum.value % 2.5) < 1e-6 ? replace(format(datum.value, '.1f'), '\u2212', '-') : ''",
                "tickSize": {"condition": {"test": "abs(datum.value % 2.5) < 1e-6", "value": 8}, "value": 5.5},
                "labelPadding": 7.5,
                "title": "x", "titleX": 149.4, "titleY": 52.3, "titleAlign": "center", "titleBaseline": "alphabetic", "titleAngle": 0}},
            "y": {"field": "v", "type": "quantitative", "scale": {"domain": [-10, 10], "range": [575.3, 4.6], "nice": false, "zero": false},
              "axis": {"offset": -2.4, "values": [-10,-9.5,-9,-8.5,-8,-7.5,-7,-6.5,-6,-5.5,-5,-4.5,-4,-3.5,-3,-2.5,-2,-1.5,-1,-0.5,0,0.5,1,1.5,2,2.5,3,3.5,4,4.5,5,5.5,6,6.5,7,7.5,8,8.5,9,9.5,10],
                "labelExpr": "abs(datum.value % 2.5) < 1e-6 ? replace(format(datum.value, '.1f'), '\u2212', '-') : ''",
                "tickSize": {"condition": {"test": "abs(datum.value % 2.5) < 1e-6", "value": 8}, "value": 5.5},
                "labelPadding": 3,
                "title": "Theta", "titleX": -52.7, "titleY": 316.3, "titleAngle": 270, "titleAlign": "center", "titleBaseline": "middle"}},
            "color": {"field": "s", "type": "nominal", "legend": null, "scale": {"domain": ["s1","s2","s3","s4","s5"], "range": ["#000000","#000000","#111111","#8c8c8c","#1a1a1a"]}},
            "strokeDash": {"field": "s", "type": "nominal", "legend": null, "scale": {"domain": ["s1","s2","s3","s4","s5"], "range": [[1,0],[6,1.5,1.5,1.5],[3.5,2],[1,1.6],[1.5,1.5]]}}
          }
        },
        {
          "data": {"values": [{"x": -10}]},
          "mark": {"type": "rule", "opacity": 0},
          "encoding": {
            "x": {"field": "x", "type": "quantitative",
              "axis": {"orient": "top", "domain": false, "ticks": false, "labels": false, "title": "d)", "titleFont": "Liberation Serif", "titleFontSize": 27, "titleX": -117.3, "titleY": 626.6, "titleAlign": "left", "titleBaseline": "alphabetic", "titleAngle": 0}}
          }
        }
      ],
      "resolve": {"axis": {"x": "independent"}}
    }
  ]
}
